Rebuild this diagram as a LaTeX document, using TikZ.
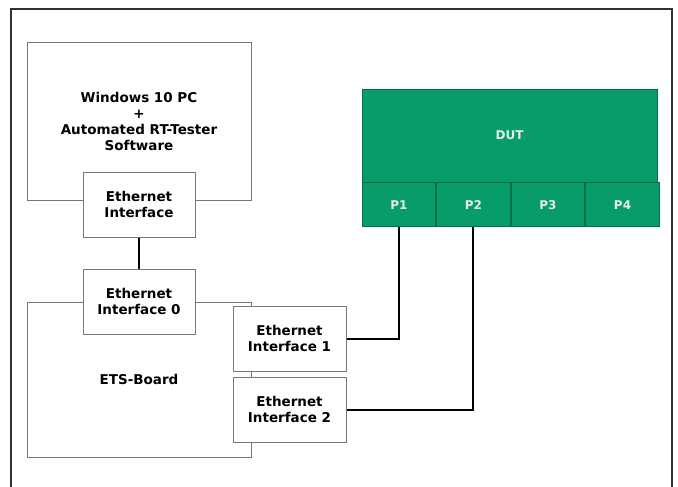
\documentclass[tikz,border=0pt]{standalone}
\usepackage{fontspec}
\setmainfont{DejaVu Sans}
\usetikzlibrary{positioning}
\definecolor{dutgreen}{RGB}{8, 156, 104}
\definecolor{boxgray}{RGB}{120, 120, 120}
\definecolor{framegray}{RGB}{50, 50, 50}
\begin{document}
\begin{tikzpicture}[x=1pt, y=-1pt,
        node distance=0pt,
        box/.style={draw=boxgray, fill=white, line width=1pt, inner sep=2pt, font=\fontsize{13.5}{16.3}\selectfont\bfseries, align=center},
        iface/.style={box, minimum width=112pt, minimum height=65pt},
        dut/.style={draw=dutgreen!70!black, fill=dutgreen, line width=0.8pt, text=white!92!black, font=\fontsize{12}{14}\selectfont\bfseries, align=center},
        port/.style={dut, minimum width=73.75pt, minimum height=44pt},
        wire/.style={line width=2pt, black}
      ]
        \useasboundingbox (0,0) rectangle (678,487);
        \draw[framegray, line width=1.5pt] (11,490) -- (11,9) -- (672,9) -- (672,490);
        % PC side
        \node[box, minimum width=224pt, minimum height=157pt] (pc) at (139,121.5) {Windows 10 PC\\+\\Automated RT-Tester\\Software};
        \node[iface] (ethpc) at (139,204.5) {Ethernet\\Interface};
        % ETS board
        \node[box, minimum width=224pt, minimum height=155pt] (ets) at (139,379.5) {ETS-Board};
        \node[iface] (eth0) at (139,301.5) {Ethernet\\Interface 0};
        \node[iface, minimum width=113pt] (eth1) at (289.5,338.5) {Ethernet\\Interface 1};
        \node[iface, minimum width=113pt] (eth2) at (289.5,409.5) {Ethernet\\Interface 2};
        % device under test
        \node[dut, minimum width=295pt, minimum height=93pt] (dutbox) at (509.5,135.5) {DUT};
        \node[port, below right=0pt and 0pt of dutbox.south west, anchor=north west] (p1) {P1};
        \node[port, right=of p1] (p2) {P2};
        \node[port, right=of p2] (p3) {P3};
        \node[port, right=of p3] (p4) {P4};
        \draw[wire] (ethpc) -- (eth0);
        \draw[wire] (eth1.east) -| (p1.south);
        \draw[wire] (eth2.east) -| (p2.south);
      \end{tikzpicture}
\end{document}
